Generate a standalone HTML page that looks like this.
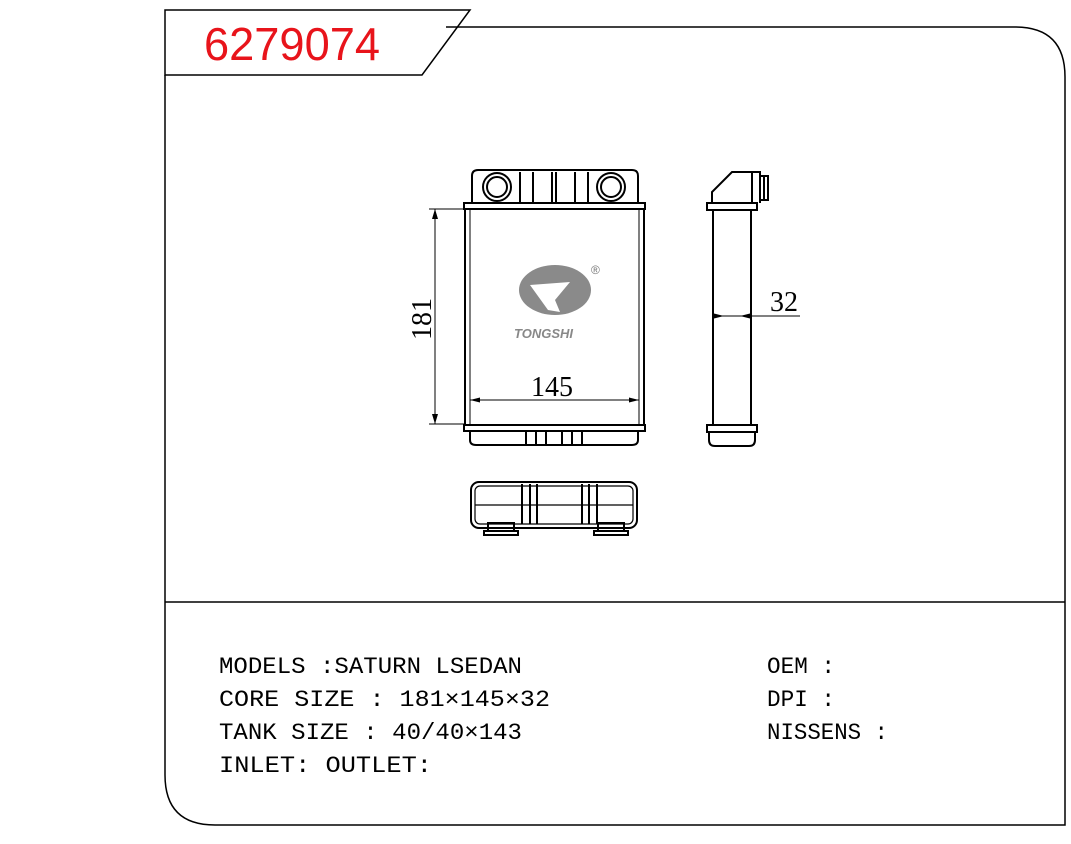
<!DOCTYPE html>
<html><head><style>body{margin:0;background:#fff}svg{display:block}</style></head><body>
<svg width="1071" height="844" viewBox="0 0 1071 844" xmlns="http://www.w3.org/2000/svg">
<g fill="none" stroke="#000" stroke-width="1.5">
<path d="M165 10 H470 L422 75 H165 Z"/>
<path d="M446 27 H1015 Q1065 27 1065 77 V825 H215 Q165 825 165 775 V75"/>
<line x1="165" y1="602" x2="1065" y2="602"/>
</g>
<text x="204" y="60" font-family="Liberation Sans, sans-serif" font-size="46" fill="#e8141b" textLength="176" lengthAdjust="spacingAndGlyphs">6279074</text>
<g fill="none" stroke="#000" stroke-width="2">
<path d="M472 204 V176 Q472 170 478 170 H632 Q638 170 638 176 V204"/>
<circle cx="497" cy="187" r="14"/><circle cx="497" cy="187" r="10"/>
<circle cx="611" cy="187" r="14"/><circle cx="611" cy="187" r="10"/>
<path d="M520 204 V172 M533 204 V172 M552 204 V172 M556 204 V172 M575 204 V172 M588 204 V172"/>
<rect x="464" y="203" width="181" height="6"/>
<rect x="465" y="209" width="179" height="216"/>
<line x1="470" y1="209" x2="470" y2="425" stroke-width="1"/>
<line x1="639" y1="209" x2="639" y2="425" stroke-width="1"/>
<rect x="464" y="425" width="181" height="6"/>
<path d="M470 431 V440 Q470 445 476 445 H632 Q638 445 638 440 V431"/>
<path d="M526 431 V445 M536 431 V445 M546 431 V445 M562 431 V445 M572 431 V445 M582 431 V445"/>
<path d="M712 203 V192 L732 172 H752 V203"/>
<path d="M752 172 H760 V203 M760 176 H768 V200 H760 M764 176 V200"/>
<rect x="707" y="203" width="50" height="7"/>
<rect x="713" y="210" width="38" height="215"/>
<rect x="707" y="425" width="50" height="7"/>
<path d="M709 432 V440 Q709 446 715 446 H749 Q755 446 755 440 V432"/>
<rect x="471" y="482" width="166" height="46" rx="8"/>
<rect x="475" y="486" width="158" height="38" rx="5" stroke-width="1.2"/>
<line x1="475" y1="505" x2="633" y2="505" stroke-width="1.2"/>
<path d="M522 484 V524 M530 484 V524 M537 484 V524 M582 484 V524 M589 484 V524 M597 484 V524"/>
<rect x="488" y="523" width="26" height="8"/><rect x="484" y="531" width="34" height="4"/>
<rect x="598" y="523" width="26" height="8"/><rect x="594" y="531" width="34" height="4"/>
</g>
<g stroke="#000" stroke-width="1" fill="none">
<line x1="429" y1="209" x2="465" y2="209"/><line x1="429" y1="424" x2="465" y2="424"/>
<line x1="435" y1="209" x2="435" y2="424"/>
<line x1="470" y1="400" x2="639" y2="400"/>
<line x1="713" y1="316" x2="800" y2="316"/>
</g>
<g fill="#000">
<path d="M435 209 l-3 10 h6z"/><path d="M435 424 l-3 -10 h6z"/>
<path d="M470 400 l10 -2.5 v5z"/><path d="M639 400 l-10 -2.5 v5z"/>
<path d="M724 316 l-10 -2.5 v5z"/><path d="M740 316 l10 -2.5 v5z"/>
</g>
<g font-family="Liberation Serif, serif" font-size="28" fill="#000">
<text x="531" y="396">145</text>
<text x="770" y="311">32</text>
<text transform="translate(431 340) rotate(-90)">181</text>
</g>
<ellipse cx="555" cy="290" rx="36" ry="25" fill="#8a8a8a"/>
<path d="M530 285 L570 282 L555 300 L560 312 L548 310 Z" fill="#fff"/>
<text x="591" y="274" font-family="Liberation Sans, sans-serif" font-size="12" fill="#777">®</text>
<text x="514" y="338" font-family="Liberation Sans, sans-serif" font-size="13" font-weight="bold" font-style="italic" fill="#888">TONGSHI</text>
<g font-family="Liberation Mono, DejaVu Sans Mono, monospace" font-size="23" fill="#000" xml:space="preserve" lengthAdjust="spacingAndGlyphs">
<text x="219" y="673" textLength="303" lengthAdjust="spacingAndGlyphs">MODELS :SATURN  LSEDAN</text>
<text x="219" y="706" textLength="331" lengthAdjust="spacingAndGlyphs">CORE SIZE : 181×145×32</text>
<text x="219" y="739" textLength="303" lengthAdjust="spacingAndGlyphs">TANK SIZE : 40/40×143</text>
<text x="219" y="772" textLength="213" lengthAdjust="spacingAndGlyphs">INLET:   OUTLET:</text>
<text x="767" y="673" textLength="68" lengthAdjust="spacingAndGlyphs">OEM :</text>
<text x="767" y="706" textLength="68" lengthAdjust="spacingAndGlyphs">DPI :</text>
<text x="767" y="739" textLength="121" lengthAdjust="spacingAndGlyphs">NISSENS :</text>
</g>
</svg>
</body></html>
